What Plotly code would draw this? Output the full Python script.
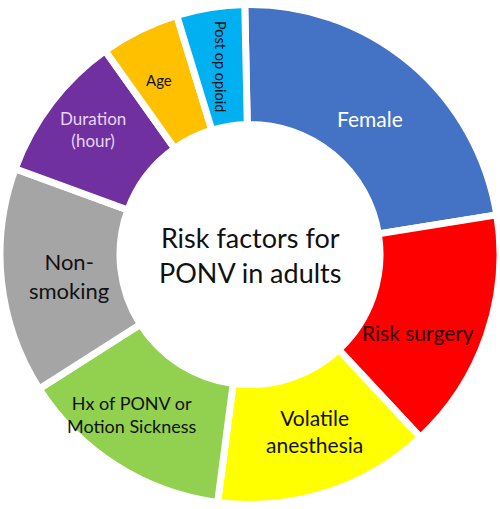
import math
import plotly.graph_objects as go

labels = ["Female", "Risk surgery", "Volatile anesthesia", "Hx of PONV or Motion Sickness",
          "Non-smoking", "Duration (hour)", "Age", "Post op opioid"]
display = ["Female", "Risk surgery", "Volatile<br>anesthesia", "Hx of PONV or<br>Motion Sickness",
           "Non-<br>smoking", "Duration<br>(hour)", "Age", "Post op opioid"]
values = [22.8, 15.6, 14.0, 13.9, 14.6, 9.6, 5.1, 4.4]
colors = ["#4472C4", "#FF0000", "#FFFF00", "#92D050", "#A5A5A5", "#7030A0", "#FFC000", "#00B0F0"]

# label styling (not data)
text_colors = ["#FFFFFF", "#2A0000", "#111111", "#111111", "#111111", "#E8D5F2", "#111111", "#111111"]
text_sizes = [21, 21, 21, 18, 22, 17, 15, 14.5]
text_angles = [0, 0, 0, 0, 0, 0, 0, 90]
angle_shift = [1.59, 5.87, -2.45, 3.86, -0.56, 1.18, -1.32, 0.02]
radius_px = [182, 184.6, 188, 199, 182, 200, 197, 190]

W, H = 500, 509
ROT = -1.2

fig = go.Figure()
fig.add_trace(go.Pie(
    labels=labels, values=values, textinfo="none",
    sort=False, direction="clockwise", rotation=ROT, hole=0.52,
    marker=dict(colors=colors, line=dict(color="white", width=7)),
    showlegend=False, hoverinfo="label",
))

total = sum(values)
cum = 0.0
for i, v in enumerate(values):
    mid = ROT + (cum + v / 2) / total * 360 + angle_shift[i]
    cum += v
    a = math.radians(mid)
    x = 0.5 + radius_px[i] * math.sin(a) / W
    y = 0.5 + radius_px[i] * math.cos(a) / H
    fig.add_annotation(x=x, y=y, xref="paper", yref="paper", showarrow=False,
                       xanchor="center", yanchor="middle",
                       text=display[i], textangle=text_angles[i],
                       font=dict(family="Lato", size=text_sizes[i], color=text_colors[i]))

fig.add_annotation(x=0.5, y=0.5, xref="paper", yref="paper", showarrow=False,
                   xanchor="center", yanchor="middle",
                   text="Risk factors for<br>PONV in adults",
                   font=dict(family="Lato", size=27, color="#111111"))
fig.update_layout(width=W, height=H, margin=dict(l=0, r=0, t=0, b=0),
                  paper_bgcolor="white", plot_bgcolor="white")
fig.write_html("out.html", config={"displayModeBar": False},
               post_script="document.body.style.margin='0';")
